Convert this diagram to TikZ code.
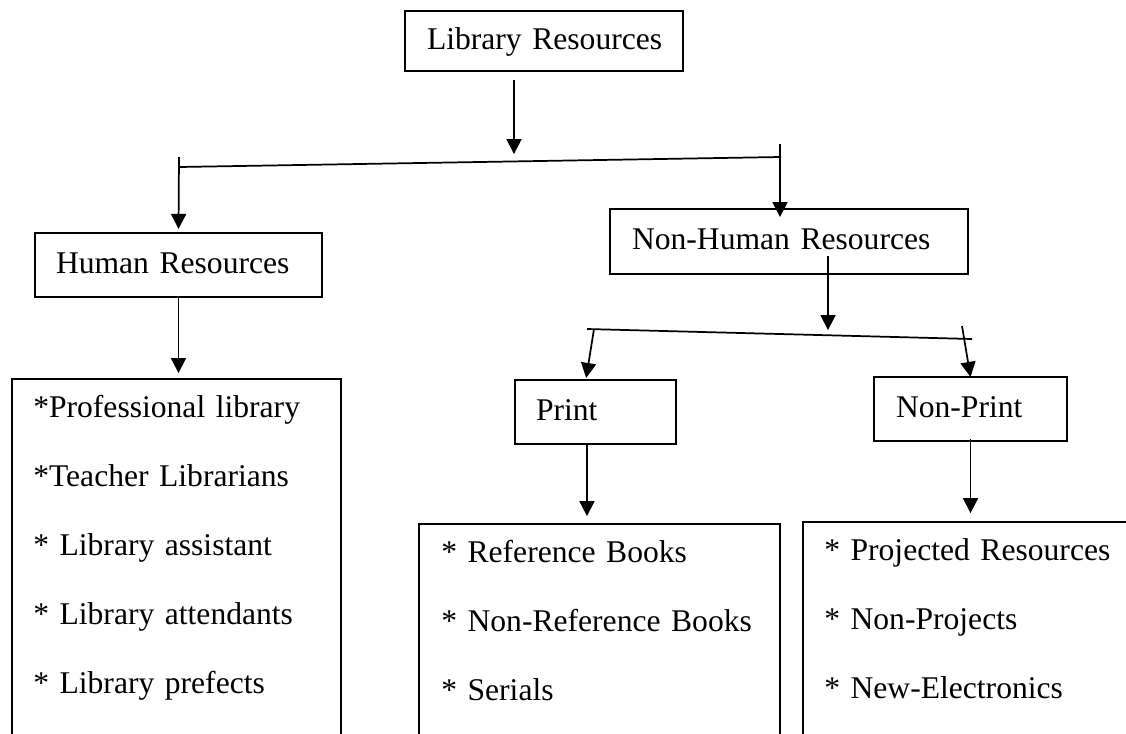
\documentclass[tikz,border=0pt]{standalone}
\usepackage{fontspec}
\setmainfont{Liberation Serif}
\usetikzlibrary{arrows.meta}
\begin{document}
\begin{tikzpicture}[x=0.75pt,y=-0.75pt,
  box/.style={draw, line width=1.6pt, rectangle, inner ysep=0pt, align=left,
    text height=16.2pt, text depth=4.2pt, font=\fontsize{23.7pt}{28pt}\selectfont},
  listtext/.style={align=left, inner sep=0pt, text width=330pt, anchor=base west,
    font=\fontsize{23.7pt}{51.75pt}\selectfont},
  openbox/.style={draw, line width=1.6pt, anchor=north west, minimum height=300pt, inner sep=0pt},
  arr/.style={line width=1.3pt, -{Triangle[width=11.25pt,length=11.25pt]}},
  bar/.style={line width=1.3pt}]
\useasboundingbox (0,0) rectangle (1126,733);
\clip (0,0) rectangle (1126,733);
\fill[white] (0,0) rectangle (1126,733);

% boxes
\node[box, minimum width=208.5pt, minimum height=45pt, text width=175.5pt, inner xsep=16.5pt] (lr) at (544,41) {\mbox{Library Resources}};
\node[box, minimum width=215.25pt, minimum height=48pt, text width=183.75pt, inner xsep=15.75pt] (hr) at (178.5,265) {\mbox{Human Resources}};
\node[box, minimum width=268.5pt, minimum height=48.75pt, text width=235.5pt, inner xsep=16.5pt] (nh) at (789,241.5) {\mbox{Non-Human Resources}};
\node[box, minimum width=120.75pt, minimum height=48pt, text width=89.25pt, inner xsep=15.75pt] (pr) at (595.5,412) {\mbox{Print}};
\node[box, minimum width=144.75pt, minimum height=48pt, text width=111.75pt, inner xsep=16.5pt] (npr) at (970.5,409) {\mbox{Non-Print}};

% open list boxes
\node[openbox, minimum width=246.75pt] (hlbox) at (11,378) {};
\node[openbox, minimum width=270.75pt] (plbox) at (418,523) {};
\node[openbox, minimum width=300pt] (nplbox) at (802,521) {};

% list texts
\node[listtext] (hl) at (33,417) {*Professional library\\{}*Teacher Librarians\\{}* Library assistant\\{}* Library attendants\\{}* Library prefects};
\node[listtext] (pl) at (441,562) {* Reference Books\\{}* Non-Reference Books\\{}* Serials};
\node[listtext] (npl) at (824,560) {* Projected Resources\\{}* Non-Projects\\{}* New-Electronics};

% connectors
\coordinate (b1L) at (179,167);
\coordinate (b1R) at (780,157);
\coordinate (b2L) at (587,329);
\coordinate (b2R) at (972,339);
\draw[bar] (b1L) -- (b1R);
\draw[bar] (b2L) -- (b2R);

\draw[arr] ([xshift=-22.5pt,yshift=-6pt]lr.south) -- ++(0,74);
\draw[arr] ([yshift=7.5pt]b1L) -- ([yshift=2.25pt]hr.north);
\draw[arr] ([yshift=9.75pt]b1R) -- ++(0,73);
\draw[arr] (hr.south) -- ++(0,75);
\draw[arr] ([xshift=29.25pt,yshift=14.25pt]nh.south) -- ++(0,74);
\draw[arr] ([xshift=5.25pt]b2L) -- ([xshift=-7pt,yshift=0.75pt]pr.north);
\draw[arr] ([xshift=-7.5pt,yshift=9.75pt]b2R) -- ([yshift=-0.75pt]npr.north);
\draw[arr] ([xshift=-6.4pt,yshift=1.5pt]pr.south) -- ++(0,73);
\draw[arr] ([yshift=2.25pt]npr.south) -- ++(0,74);
\end{tikzpicture}
\end{document}
